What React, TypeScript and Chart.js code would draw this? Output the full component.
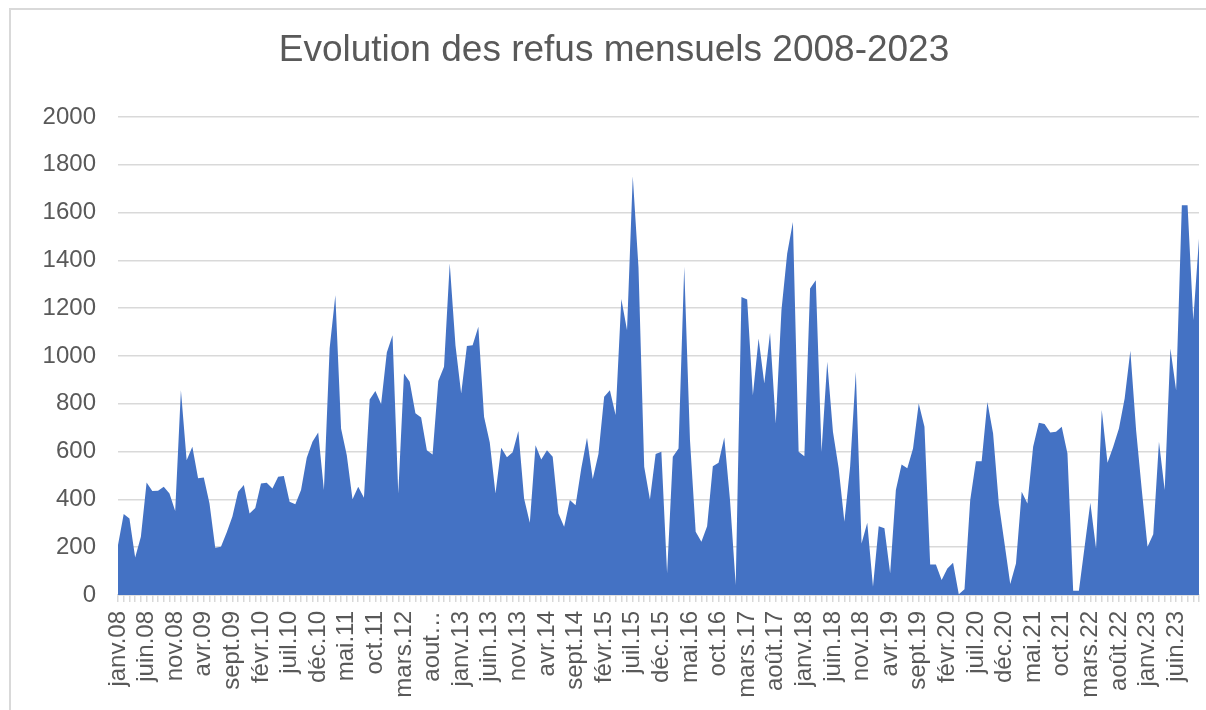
import React, { useEffect, useRef } from "react";
import { Chart, registerables } from "chart.js";

Chart.register(...registerables);

const TITLE = "Evolution des refus mensuels 2008-2023";
const MONTHS = ["janv", "févr", "mars", "avr", "mai", "juin", "juil", "août", "sept", "oct", "nov", "déc"];
const START_YEAR = 2008;
const LABEL_EVERY = 5;
const LABEL_OVERRIDES: Record<number, string> = { 55: "aout…" };

const REFUS = [
  209, 339, 320, 157, 244, 471, 435, 436, 453, 425,
  351, 857, 564, 620, 488, 492, 383, 198, 202, 261,
  328, 432, 460, 341, 364, 467, 470, 446, 495, 498,
  390, 380, 439, 574, 641, 680, 439, 1031, 1254, 697,
  585, 401, 453, 407, 818, 854, 799, 1015, 1087, 425,
  927, 892, 760, 743, 606, 588, 895, 955, 1387, 1045,
  843, 1042, 1045, 1122, 746, 638, 425, 616, 576, 597,
  686, 404, 302, 627, 567, 606, 578, 341, 286, 397,
  376, 530, 658, 485, 590, 829, 857, 753, 1238, 1108,
  1752, 1370, 537, 400, 590, 599, 91, 578, 613, 1373,
  650, 265, 223, 288, 539, 553, 659, 397, 42, 1247,
  1236, 836, 1073, 885, 1097, 718, 1192, 1429, 1561, 599,
  581, 1282, 1317, 599, 976, 683, 530, 307, 537, 934,
  216, 302, 35, 288, 279, 91, 439, 546, 530, 613,
  801, 704, 128, 128, 63, 111, 135, 3, 24, 397,
  560, 560, 808, 676, 383, 216, 46, 132, 432, 383,
  620, 721, 715, 680, 683, 704, 592, 18, 18, 202,
  386, 195, 774, 553, 620, 697, 822, 1022, 690, 439,
  202, 254, 641, 439, 1031, 857, 1631, 1631, 1150, 1491,
];

const CATEGORIES = REFUS.map((_, i) => {
  const m = i % 12;
  const y = START_YEAR + Math.floor(i / 12);
  return `${MONTHS[m]}.${String(y % 100).padStart(2, "0")}`;
});

const Y_MIN = 0;
const Y_MAX = 2000;
const Y_STEP = 200;

const FONT = '"Liberation Sans", Arial, sans-serif';
const TEXT = "#595959";
const GRID = "#d9d9d9";
const FILL = "#4472C4";

const framePlugin = {
  id: "frame",
  afterDraw(chart: any) {
    const ctx = chart.ctx;
    ctx.save();
    ctx.strokeStyle = GRID;
    ctx.lineWidth = 2;
    ctx.beginPath();
    ctx.moveTo(10, 710);
    ctx.lineTo(10, 9);
    ctx.lineTo(1206, 9);
    ctx.stroke();
    ctx.fillStyle = TEXT;
    ctx.font = `37px ${FONT}`;
    ctx.textAlign = "center";
    ctx.textBaseline = "middle";
    ctx.fillText(TITLE, 614, 51);
    ctx.restore();
  },
};

export default function App() {
  const ref = useRef<HTMLCanvasElement | null>(null);
  useEffect(() => {
    if (!ref.current) return;
    const chart = new Chart(ref.current, {
      type: "line",
      data: {
        labels: CATEGORIES,
        datasets: [
          {
            data: REFUS,
            fill: "origin",
            backgroundColor: FILL,
            borderColor: FILL,
            borderWidth: 0,
            pointRadius: 0,
            tension: 0,
          },
        ],
      },
      options: {
        responsive: false,
        animation: false,
        devicePixelRatio: 1,
        layout: { autoPadding: false, padding: { left: 10, right: 7, top: 117, bottom: 0 } },
        plugins: { legend: { display: false }, title: { display: false }, tooltip: { enabled: false } },
        scales: {
          x: {
            offset: false,
            border: { display: true, color: GRID, width: 1.5 },
            grid: { drawOnChartArea: false, drawTicks: true, tickLength: 7, color: GRID, lineWidth: 1.5 },
            ticks: {
              autoSkip: false,
              minRotation: 90,
              maxRotation: 90,
              padding: 9,
              color: TEXT,
              font: { family: FONT, size: 24 },
              callback: (_v: any, i: number) =>
                i % LABEL_EVERY === 0 ? LABEL_OVERRIDES[i] ?? CATEGORIES[i] : "",
            },
            afterFit: (s: any) => {
              s.height = 115;
              s.paddingLeft = 0;
              s.paddingRight = 0;
            },
          },
          y: {
            min: Y_MIN,
            max: Y_MAX,
            border: { display: false },
            grid: { color: GRID, lineWidth: 1.5, drawTicks: false },
            ticks: {
              stepSize: Y_STEP,
              padding: 22,
              color: TEXT,
              font: { family: FONT, size: 24 },
              callback: (v: any) => String(v),
            },
            afterFit: (s: any) => {
              s.width = 108;
            },
          },
        },
      },
      plugins: [framePlugin],
    });
    return () => chart.destroy();
  }, []);
  return (
    <div style={{ position: "fixed", left: 0, top: 0, width: 1206, height: 710, overflow: "hidden", background: "#fff" }}>
      <canvas ref={ref} width={1206} height={710} style={{ width: 1206, height: 710, display: "block" }} />
    </div>
  );
}
